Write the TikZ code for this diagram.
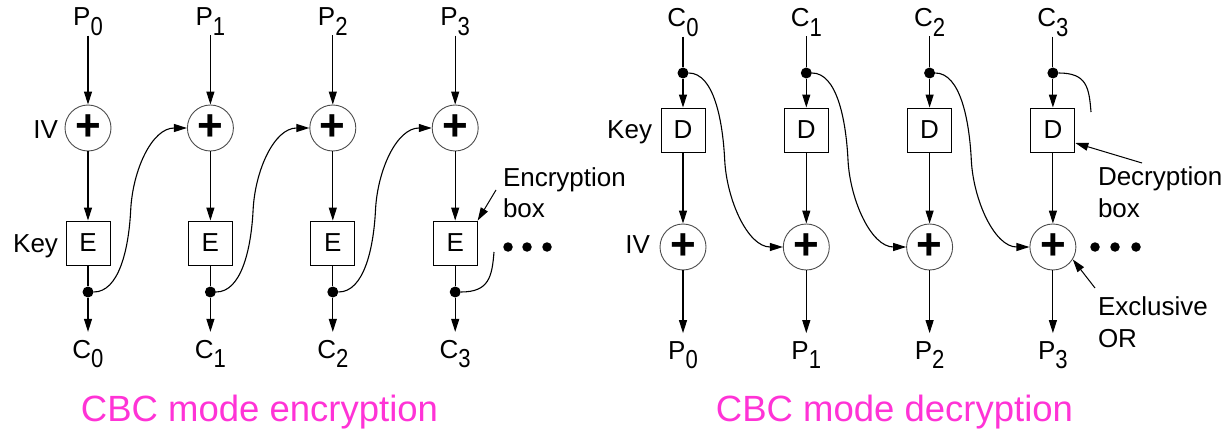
\documentclass[tikz,border=0pt]{standalone}
\usepackage{fontspec}
\setmainfont{Liberation Sans}
\usepackage{graphicx}
\usetikzlibrary{arrows.meta}
\definecolor{capmag}{RGB}{255,51,214}
\newcommand\subd[1]{\raisebox{-0.36em}{\scalebox{0.85}[1]{#1}}}
\begin{document}
\begin{tikzpicture}[x=1pt,y=-1pt,
  lbl/.style={font=\fontsize{26}{26}\selectfont, inner sep=0pt, outer sep=0pt},
  xorc/.style={circle, draw=black!70, line width=0.9pt, minimum size=46pt, inner sep=0pt, font=\fontsize{44}{44}\selectfont\bfseries},
  cbox/.style={draw, line width=0.9pt, minimum size=44pt, inner sep=0pt, font=\fontsize{26}{26}\selectfont},
  jdot/.style={circle, fill=black, minimum size=11pt, inner sep=0pt},
  edot/.style={circle, fill=black, minimum size=9.5pt, inner sep=0pt},
  flow/.style={line width=1.1pt, -{Triangle[length=13pt,width=8pt]}},
  wire/.style={line width=1.1pt},
  captxt/.style={font=\fontsize{36.5}{36.5}\selectfont, text=capmag, inner sep=0pt, anchor=base}
]
\useasboundingbox (0,0) rectangle (1231,433);
% ---------- encryption ----------
\foreach \i in {0,1,2,3}{
  \pgfmathsetmacro\x{88+122.4*\i}
  \node[lbl, anchor=base] (p\i) at (\x,26) {P\subd{\i}};
  \node[xorc] (x\i) at (\x,128) {+};
  \node[cbox] (e\i) at (\x,243) {E};
  \node[jdot] (d\i) at (\x,292) {};
  \node[lbl, anchor=base] (c\i) at (\x,358) {C\subd{\i}};
  \draw[flow] (p\i) -- (x\i);
  \draw[flow] (x\i) -- (e\i);
  \draw[wire] (e\i) -- (d\i);
  \draw[flow, shorten >=8pt] (d\i) -- (c\i);
}
\foreach \i in {0,1,2}{
  \pgfmathtruncatemacro\j{\i+1}
  \draw[flow] (d\i.east) .. controls +(25,0) and +(-2,40) .. ++(37,-82)
                         .. controls +(2,-40) and +(-35,0) .. (x\j.west);
}
\coordinate (es) at (494,252);
\draw[wire] (d3.east) .. controls +(28,0) and +(-2,25) .. (es);
\node[lbl, anchor=base east] (iv) at (58,139) {IV};
\node[lbl, anchor=base east] (key) at (58,252) {Key};
\node[lbl, anchor=base west] (encA) at (503,186) {Encryption};
\node[lbl, anchor=base west] (encB) at (503,217) {box};
\coordinate (ea) at (496,190);
\draw[flow, line width=1pt] (ea) -- (e3.north east);
\node[edot] (ed1) at (508,247) {};
\node[edot] (ed2) at (527,247) {};
\node[edot] (ed3) at (547,247) {};
% ---------- decryption ----------
\foreach \i in {0,1,2,3}{
  \pgfmathsetmacro\x{683+123.3*\i}
  \node[lbl, anchor=base] (dc\i) at (\x,27) {C\subd{\i}};
  \node[jdot] (dd\i) at (\x,73) {};
  \node[cbox] (db\i) at (\x,130) {D};
  \node[xorc] (dx\i) at (\x,247) {+};
  \node[lbl, anchor=base] (dp\i) at (\x,359) {P\subd{\i}};
  \draw[wire] (dc\i) -- (dd\i);
  \draw[flow] (dd\i) -- (db\i);
  \draw[flow] (db\i) -- (dx\i);
  \draw[flow, shorten >=8pt] (dx\i) -- (dp\i);
}
\foreach \i in {0,1,2}{
  \pgfmathtruncatemacro\j{\i+1}
  \draw[flow] (dd\i.east) .. controls +(25,0) and +(-2,-40) .. ++(36,87)
                          .. controls +(2,40) and +(-35,0) .. (dx\j.west);
}
\coordinate (ds) at (1091,112);
\draw[wire] (dd3.east) .. controls +(28,0) and +(-2,-25) .. (ds);
\node[lbl, anchor=base east] (dkey) at (652,139) {Key};
\node[lbl, anchor=base east] (div) at (650,253) {IV};
\node[lbl, anchor=base west] (decA) at (1098,185) {Decryption};
\node[lbl, anchor=base west] (decB) at (1098,217) {box};
\node[lbl, anchor=base west] (xorA) at (1098,315) {Exclusive};
\node[lbl, anchor=base west] (xorB) at (1098,347) {OR};
\coordinate (da) at (1142,163);
\draw[flow, line width=1pt] (da) -- ([yshift=-13pt]db3.east);
\coordinate (xa) at (1095,288);
\draw[flow, line width=1pt] (xa) -- (dx3.-32);
\node[edot] (dd1x) at (1095,247) {};
\node[edot] (dd2x) at (1115,247) {};
\node[edot] (dd3x) at (1136,247) {};
% ---------- captions ----------
\node[captxt] (capE) at (259.5,421) {CBC mode encryption};
\node[captxt] (capD) at (894.5,421) {CBC mode decryption};
\end{tikzpicture}
\end{document}
